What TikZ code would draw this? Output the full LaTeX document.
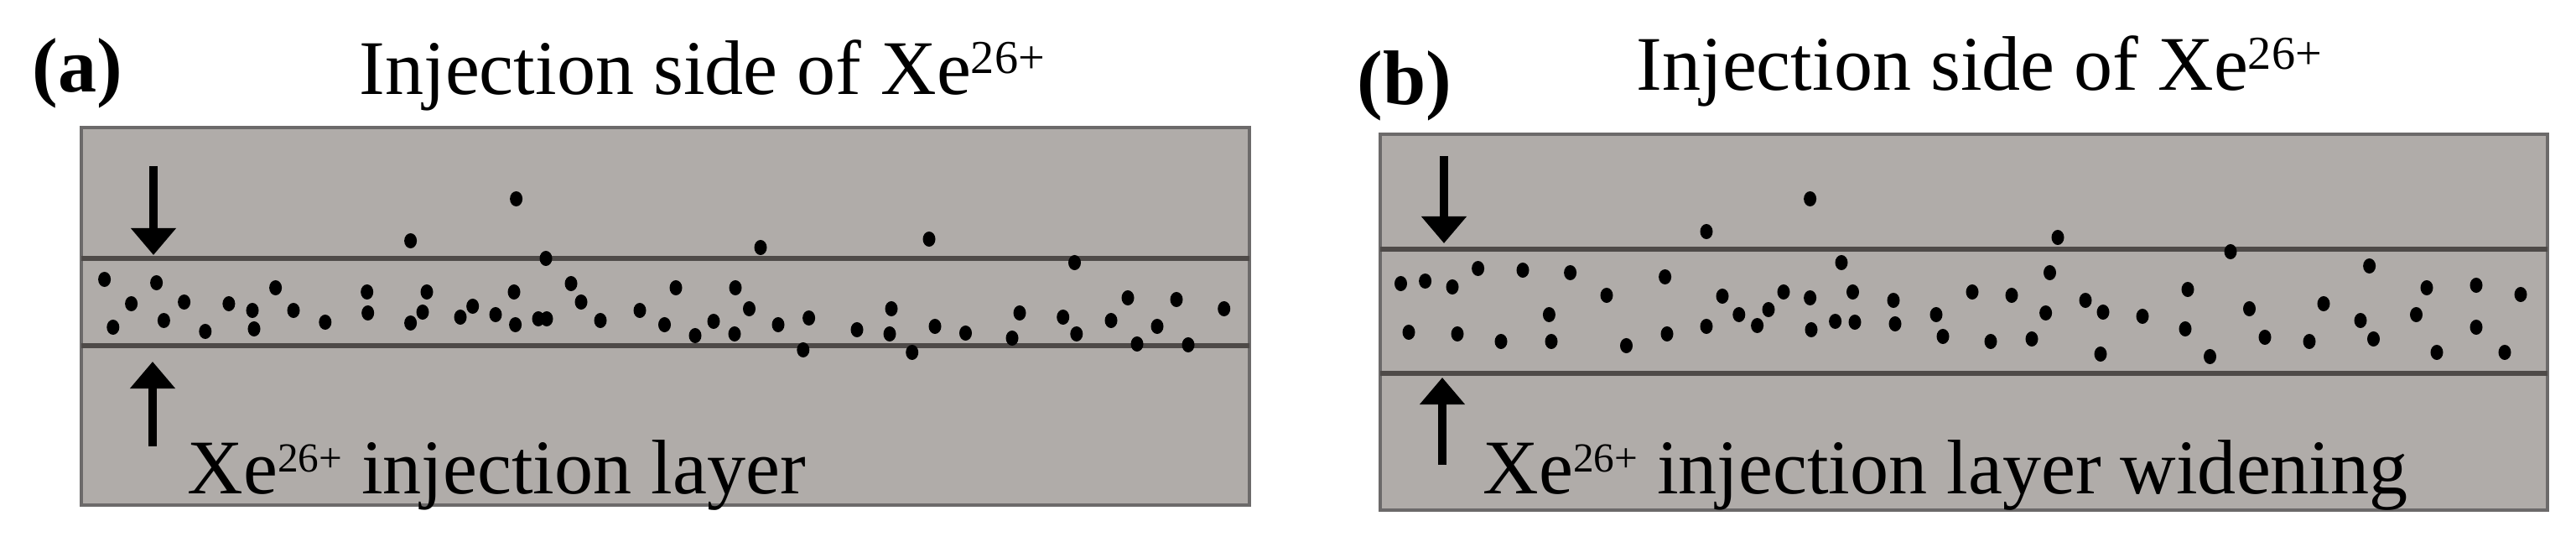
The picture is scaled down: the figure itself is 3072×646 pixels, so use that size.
\documentclass[tikz,border=0pt]{standalone}
\usepackage{fontspec}
\setmainfont{Liberation Serif}
\usetikzlibrary{arrows.meta}
\definecolor{panelgray}{RGB}{176,172,169}
\definecolor{framegray}{RGB}{108,106,106}
\definecolor{linegray}{RGB}{78,74,72}
\newcommand{\myup}[1]{\raisebox{0.25cm}{\fontsize{14}{14}\selectfont #1}}
\newcommand{\mytup}[1]{\raisebox{0.25cm}{\fontsize{16}{16}\selectfont #1}}
\tikzset{
  panel/.style={fill=panelgray, draw=framegray, line width=1.3pt},
  layerline/.style={draw=linegray, line width=1.6pt},
  bigarrow/.style={line width=2.8pt, -{Triangle[width=0.52cm,length=0.32cm]}},
  txt/.style={inner sep=0pt, anchor=base west, font=\fontsize{26.2}{30}\selectfont},
  tag/.style={inner sep=0pt, anchor=base west, font=\fontsize{26.2}{30}\selectfont\bfseries},
  dot/.style={fill=black}
}
\begin{document}
\begin{tikzpicture}[x=0.01cm,y=-0.01cm]
\useasboundingbox (0,0) rectangle (3072,646);
% panel (a)
\draw[panel] (97,152) rectangle (1490,602);
\coordinate (a1l) at (97,308); \coordinate (a1r) at (1490,308);
\coordinate (a2l) at (97,412); \coordinate (a2r) at (1490,412);
\draw[layerline] (a1l) -- (a1r);
\draw[layerline] (a2l) -- (a2r);
\foreach \x/\y in {124.6/333,186.6/337,156.6/362,219.6/360,134.8/390,195.4/382,244.8/395,272.9/362,301/370,303/392,328.6/343,350/370,387.8/384,437.7/348,438.7/373,489.6/287,509/348,504/372,489.6/385,549/378,563.7/365,591/375,613/348,614.6/387,615.6/237,642/380,652/380,651/308,681/338,693/360,716/382,763/370,792.5/387,806/343,829/400,851/383,876/398,877/343,893.5/368,907/295,928/387,964.6/379,957.8/417,1022/393,1063/368,1061/398,1087.7/420,1108/285,1115/389,1151.5/397,1207/403,1216/373,1267.7/378,1281.5/313,1283.8/398,1325/382,1345/355,1356/410,1380/389,1403/357,1417/411,1459.7/368}
  \fill[dot] (\x,\y) ellipse [x radius=0.075cm, y radius=0.09cm];
\coordinate (ad0) at (183,198); \coordinate (ad1) at (183,304);
\coordinate (au0) at (182,532); \coordinate (au1) at (182,431);
\draw[bigarrow] (ad0) -- (ad1);
\draw[bigarrow] (au0) -- (au1);
\node[tag] (taga) at (38,110) {(a)};
\node[txt] (titlea) at (428,113) {Injection side of Xe\mytup{26+}};
\node[txt] (laba) at (223,588) {Xe\myup{26+} injection layer};
% panel (b)
\draw[panel] (1646,160) rectangle (3038,608);
\coordinate (b1l) at (1646,297); \coordinate (b1r) at (3038,297);
\coordinate (b2l) at (1646,445); \coordinate (b2r) at (3038,445);
\draw[layerline] (b1l) -- (b1r);
\draw[layerline] (b2l) -- (b2r);
\foreach \x/\y in {1670.5/338,1699.6/335,1732/342,1762.6/320,1816/322,1872.6/325,1680/396,1738/398,1790/407,1847.4/375,1850/407,1916/352,1939.5/412,1985.6/330,1988/398,2035/276,2035/389,2054/353,2073.8/375,2095.6/388,2109/369,2127/348,2158.6/237,2158.6/355,2160/393,2188.6/383,2196/313,2209.5/348,2212/384,2258/358,2260/386,2309/375,2317/401,2352/348,2374/407,2399/352,2423/404,2439.6/373,2444.5/325,2454/283,2487/358,2508/372,2505/422,2555/377,2609/345,2606/392,2635.5/425,2660/300,2682.5/368,2701/402,2754/407,2771/362,2815/382,2825.6/317,2830.5/404,2881.5/375,2894/343,2906/420,2953/340,2953/390,2987/420,3006/351}
  \fill[dot] (\x,\y) ellipse [x radius=0.075cm, y radius=0.09cm];
\coordinate (bd0) at (1722,186); \coordinate (bd1) at (1722,290);
\coordinate (bu0) at (1720,554); \coordinate (bu1) at (1720,450);
\draw[bigarrow] (bd0) -- (bd1);
\draw[bigarrow] (bu0) -- (bu1);
\node[tag] (tagb) at (1618,125) {(b)};
\node[txt] (titleb) at (1951,108) {Injection side of Xe\mytup{26+}};
\node[txt] (labb) at (1768,588) {Xe\myup{26+} injection layer widening};
\end{tikzpicture}
\end{document}
